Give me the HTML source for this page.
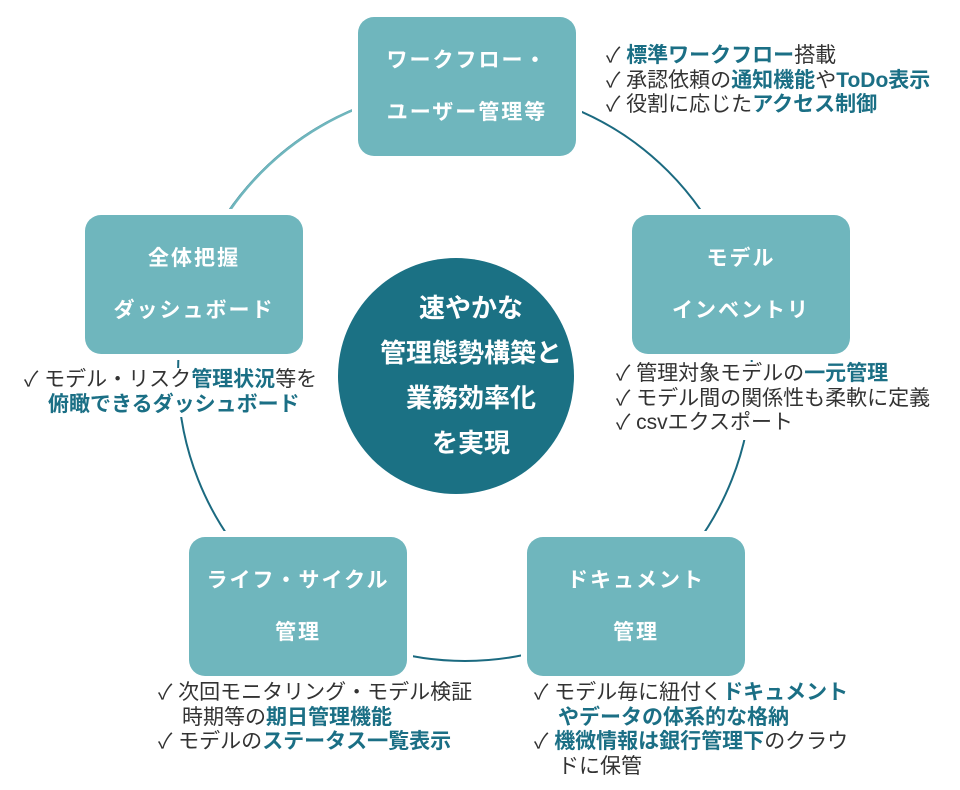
<!DOCTYPE html>
<html><head><meta charset="utf-8"><style>
body{margin:0;width:960px;height:790px;background:#fff;position:relative;overflow:hidden;font-family:"Liberation Sans","Noto Sans CJK JP",sans-serif}
svg{position:absolute;left:0;top:0}
.box{position:absolute;width:218px;height:139px;background:#6fb6bd;border-radius:16px;box-shadow:0 0 0 6px #fff;color:#fff;font-weight:bold;font-size:21px;text-align:center;display:flex;flex-direction:column;justify-content:center;line-height:52px;letter-spacing:2px}
.ctr{position:absolute;left:338px;top:258px;width:236px;height:236px;border-radius:50%;background:#1b7184;color:#fff;font-weight:bold;font-size:26px;text-align:center;display:flex;flex-direction:column;justify-content:center;line-height:45px;letter-spacing:0px;box-sizing:border-box;padding-left:30px}
.lb{position:absolute;font-size:21px;color:#333;line-height:24.5px;background:#fff;white-space:nowrap}
.lb b{color:#1b6f85}
.i{display:inline-block;width:24px}
</style></head><body>
<svg width="960" height="790">
<circle cx="465" cy="374" r="287" fill="none" stroke="#1b6a80" stroke-width="2"/>
<path d="M230 210 A287 287 0 0 1 358 108" fill="none" stroke="#6fb6bd" stroke-width="2.5"/>
</svg>
<div class="box" style="left:358px;top:17px"><div>ワークフロー・</div><div>ユーザー管理等</div></div>
<div class="box" style="left:632px;top:215px"><div>モデル</div><div>インベントリ</div></div>
<div class="box" style="left:527px;top:537px"><div>ドキュメント</div><div>管理</div></div>
<div class="box" style="left:189px;top:537px"><div>ライフ・サイクル</div><div>管理</div></div>
<div class="box" style="left:85px;top:215px"><div>全体把握</div><div>ダッシュボード</div></div>
<div class="ctr"><div>速やかな</div><div>管理態勢構築と</div><div>業務効率化</div><div>を実現</div></div>
<div class="lb" style="left:606px;top:44px">✓ <b>標準ワークフロー</b>搭載<br>✓ 承認依頼の<b>通知機能</b>や<b>ToDo表示</b><br>✓ 役割に応じた<b>アクセス制御</b></div>
<div class="lb" style="left:616px;top:362px;padding-bottom:4px">✓ 管理対象モデルの<b>一元管理</b><br>✓ モデル間の関係性も柔軟に定義<br>✓ csvエクスポート</div>
<div class="lb" style="left:24px;top:368px">✓ モデル・リスク<b>管理状況</b>等を<br><span class="i"></span><b>俯瞰できるダッシュボード</b></div>
<div class="lb" style="left:158px;top:681px">✓ 次回モニタリング・モデル検証<br><span class="i"></span>時期等の<b>期日管理機能</b><br>✓ モデルの<b>ステータス一覧表示</b></div>
<div class="lb" style="left:534px;top:681px">✓ モデル毎に紐付く<b>ドキュメント</b><br><span class="i"></span><b>やデータの体系的な格納</b><br>✓ <b>機微情報は銀行管理下</b>のクラウ<br><span class="i"></span>ドに保管</div>
</body></html>
